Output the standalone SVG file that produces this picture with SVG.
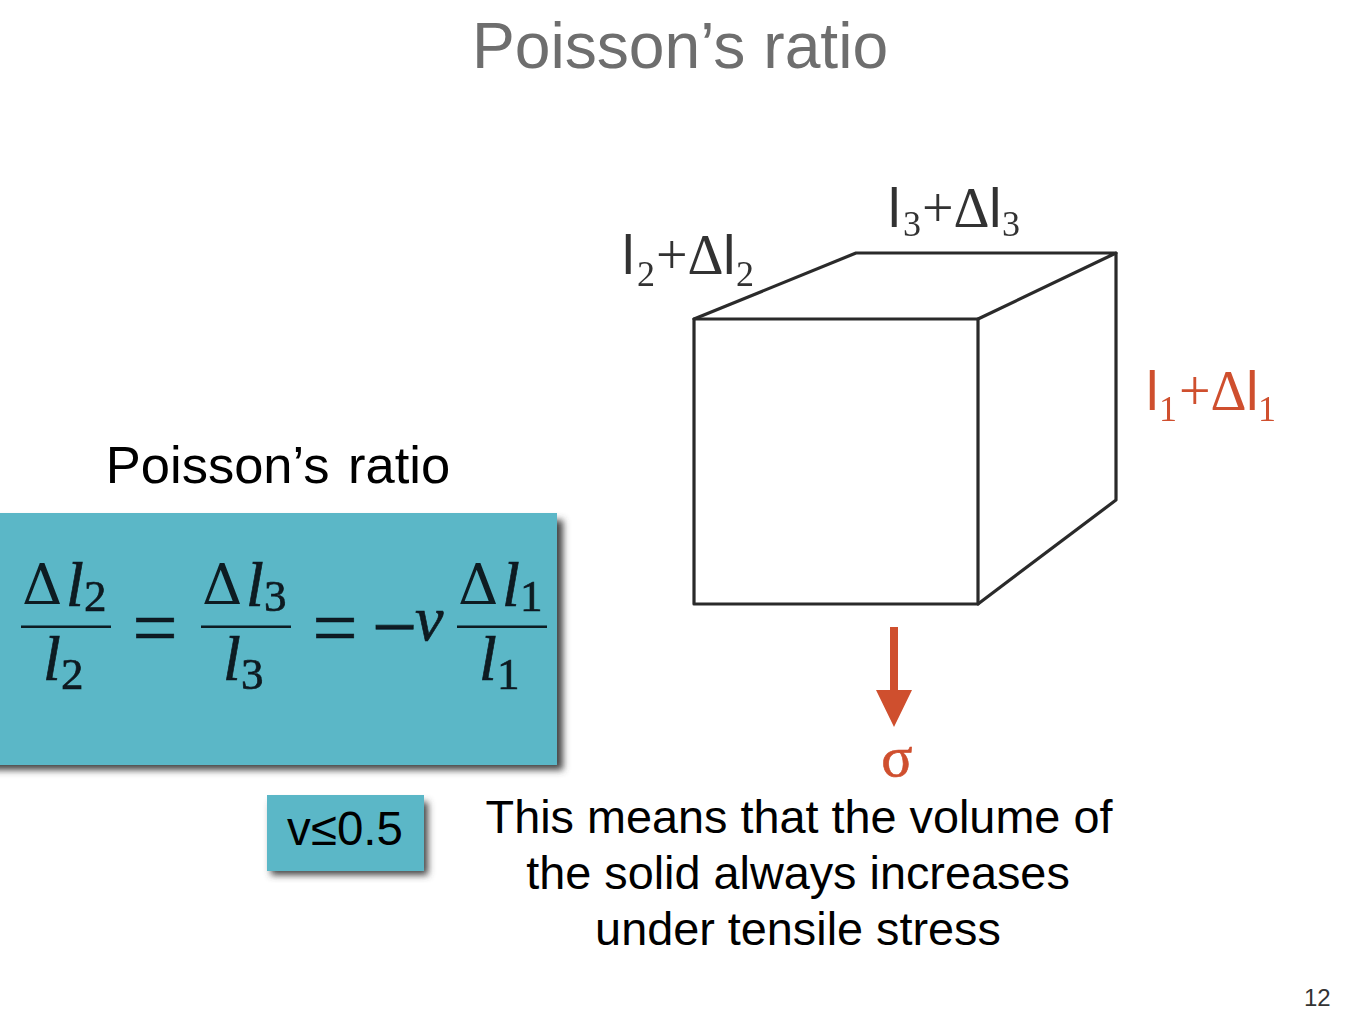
<svg xmlns="http://www.w3.org/2000/svg" width="1365" height="1024" viewBox="0 0 1365 1024">
<style>
.s{font-family:"Liberation Sans",Arial,sans-serif}
.m{font-family:"Liberation Serif","Times New Roman",serif;fill:#0c1a20;stroke:#0c1a20;stroke-width:.7}
.d{font-family:"DejaVu Serif",serif;fill:#0c1a20;font-size:56px}
.i{font-style:italic;font-size:64px}
.n{font-size:45px}
.c{text-anchor:middle}
.k{fill:#333}
.r{fill:#cf4f2e}
.t{font-family:"Liberation Serif","Times New Roman",serif;font-size:56px}
.l{font-family:"Liberation Sans",Arial,sans-serif;font-size:56px}
.u{font-family:"Liberation Serif","Times New Roman",serif;font-size:36px}
.panel{fill:#5bb7c7}
.e{fill:none;stroke:#2b2b2b;stroke-width:3.2;stroke-linejoin:round;stroke-linecap:round}
.fr{fill:#0c1a20}
.eq{font-size:80px}
</style>
<defs>
<filter id="sh" x="-10%" y="-10%" width="120%" height="120%"><feGaussianBlur stdDeviation="3.5"/></filter>
<filter id="soft" x="-5%" y="-5%" width="110%" height="110%"><feGaussianBlur stdDeviation="0.6"/></filter>
</defs>
<rect width="1365" height="1024" fill="#fff"/>
<g id="title"><text class="s c" x="680" y="68" font-size="64.2" fill="#6e6e6e">Poisson’s ratio</text></g>
<g id="subtitle"><text class="s c" x="278" y="483" font-size="52.5" word-spacing="4" fill="#000">Poisson’s ratio</text></g>
<g id="formula-box">
<rect x="-10" y="520" width="573" height="250" fill="#444" filter="url(#sh)"/>
<rect class="panel" x="0" y="513" width="557" height="252"/>
<g filter="url(#soft)">
<text class="d" x="22" y="604">Δ</text><text class="m i" x="66" y="606">l</text><text class="m n" x="84" y="611">2</text>
<rect class="fr" x="21" y="625.500" width="90" height="2.500"/>
<text class="m i" x="43" y="680">l</text><text class="m n" x="61" y="689">2</text>
<text class="m c eq" x="155" y="655">=</text>
<text class="d" x="202" y="604">Δ</text><text class="m i" x="246" y="606">l</text><text class="m n" x="264" y="611">3</text>
<rect class="fr" x="201" y="625.500" width="90" height="2.500"/>
<text class="m i" x="223" y="680">l</text><text class="m n" x="241" y="689">3</text>
<text class="m c eq" x="335" y="655">=</text>
<text class="m eq" x="372" y="654" textLength="45">−</text><text class="m i" x="415" y="640" font-style="italic">ν</text>
<text class="d" x="458" y="604">Δ</text><text class="m i" x="502" y="606">l</text><text class="m n" x="520" y="611">1</text>
<rect class="fr" x="457" y="625.500" width="90" height="2.500"/>
<text class="m i" x="479" y="680">l</text><text class="m n" x="497" y="689">1</text>
</g>
</g>
<g id="limit-box">
<rect x="271" y="802" width="157" height="73" fill="#444" filter="url(#sh)"/>
<rect class="panel" x="267" y="795" width="157" height="76"/>
<text class="s c" x="345" y="845" font-size="47.500" fill="#000">v≤0.5</text>
</g>
<g id="cube" filter="url(#soft)">
<path class="e" d="M694 319H978V604H694Z"/>
<path class="e" d="M694 319L856 253H1116L978 319"/>
<path class="e" d="M1116 253V500L978 604"/>
</g>
<g id="label-l3" filter="url(#soft)"><text class="l k" x="888" y="227">l</text><text class="u k" x="903" y="236">3</text><text class="t k" x="922" y="227">+Δ</text><text class="l k" x="989" y="227">l</text><text class="u k" x="1002" y="236">3</text></g>
<g id="label-l2" filter="url(#soft)"><text class="l k" x="622" y="274">l</text><text class="u k" x="637" y="286">2</text><text class="t k" x="656" y="274">+Δ</text><text class="l k" x="723" y="274">l</text><text class="u k" x="736" y="286">2</text></g>
<g id="label-l1" filter="url(#soft)"><text class="l r" x="1146" y="410">l</text><text class="u r" x="1159" y="421">1</text><text class="t r" x="1179" y="410">+Δ</text><text class="l r" x="1246" y="410">l</text><text class="u r" x="1258" y="421">1</text></g>
<g id="connectors" filter="url(#soft)">
<path d="M890 627H898V690H912L894 727L876 690H890Z" fill="#cf4f2e"/>
</g>
<g id="sigma" filter="url(#soft)"><text class="t r c" x="897" y="776" style="font-size:58px;stroke:#cf4f2e;stroke-width:.6">σ</text></g>
<g id="note" font-size="46.800" fill="#000">
<text class="s c" x="799" y="833">This means that the volume of</text>
<text class="s c" x="798" y="889">the solid always increases</text>
<text class="s c" x="798" y="945">under tensile stress</text>
</g>
<g id="page"><text class="s" x="1304" y="1006" font-size="24" fill="#333">12</text></g>
</svg>
